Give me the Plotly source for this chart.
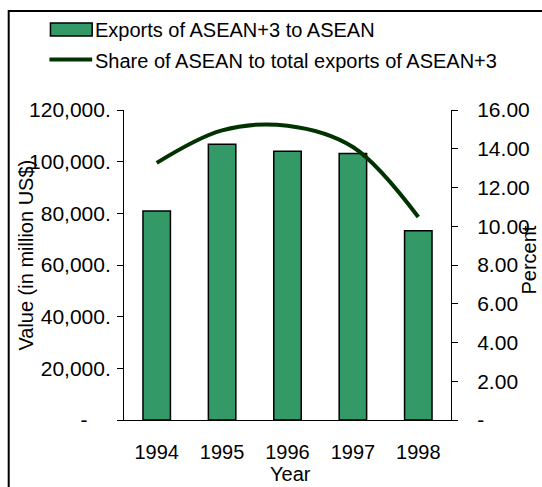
import plotly.graph_objects as go

years = ["1994", "1995", "1996", "1997", "1998"]
exports = [80900, 106700, 104000, 103200, 73300]
share = [13.27, 14.95, 15.19, 14.09, 10.48]

left_tickvals = [0, 20000, 40000, 60000, 80000, 100000, 120000]
left_ticktext = ["-\u00a0\u00a0\u00a0\u00a0", "20,000.", "40,000.", "60,000.", "80,000.", "100,000.", "120,000."]
right_tickvals = [0, 2, 4, 6, 8, 10, 12, 14, 16]
right_ticktext = ["-", "2.00", "4.00", "6.00", "8.00", "10.00", "12.00", "14.00", "16.00"]

bar_name = "Exports of ASEAN+3 to ASEAN"
line_name = "Share of ASEAN to total exports of ASEAN+3"

W, H = 542, 487
L, R, T, B = 124, 453, 110, 420


def px(x):
    return (x - L) / (R - L)


def py(y):
    return (B - y) / (B - T)


BAR = "#339966"
LINE = "#003300"
FONT = "Arial, Liberation Sans, sans-serif"

fig = go.Figure()
fig.add_trace(go.Bar(x=list(range(len(years))), y=exports, name=bar_name,
                     marker=dict(color=BAR, line=dict(color="black", width=1.5)),
                     width=0.42, xaxis="x", yaxis="y", showlegend=False))
fig.add_trace(go.Scatter(x=list(range(len(years))), y=share, name=line_name, mode="lines",
                         line=dict(color=LINE, width=4, shape="spline", smoothing=1),
                         xaxis="x", yaxis="y2", showlegend=False))

tickfont = dict(family=FONT, size=20, color="black")
ytickfont = dict(family=FONT, size=21, color="black")
xr = [-0.5, len(years) - 0.5]
fig.update_layout(
    width=W, height=H,
    margin=dict(l=L, r=W - R, t=T, b=H - B, pad=0),
    paper_bgcolor="white", plot_bgcolor="white",
    font=dict(family=FONT, size=20, color="black"),
    showlegend=False,
    xaxis=dict(range=xr, tickmode="array", tickvals=list(range(len(years))), ticktext=years,
               ticks="", showgrid=False, zeroline=False, showline=True, linecolor="black",
               linewidth=1, tickfont=tickfont, ticklabelstandoff=14),
    xaxis2=dict(range=xr, overlaying="x", tickmode="array",
                tickvals=[i - 0.5 for i in range(len(years) + 1)], showticklabels=False,
                ticks="outside", ticklen=7, tickcolor="black", showgrid=False, zeroline=False,
                side="bottom", anchor="y"),
    xaxis3=dict(range=xr, overlaying="x", tickmode="array",
                tickvals=[i - 0.5 for i in range(len(years) + 1)], showticklabels=False,
                ticks="inside", ticklen=7, tickcolor="black", showgrid=False, zeroline=False,
                side="bottom", anchor="y"),
    yaxis=dict(range=[0, 120000], tickmode="array", tickvals=left_tickvals, ticktext=left_ticktext,
               ticks="outside", ticklen=6, tickcolor="black", showgrid=False, zeroline=False,
               showline=True, linecolor="black", linewidth=1, tickfont=ytickfont,
               ticklabelstandoff=2),
    yaxis3=dict(range=[0, 120000], overlaying="y", tickmode="array", tickvals=left_tickvals,
                showticklabels=False, ticks="inside", ticklen=6, tickcolor="black",
                showgrid=False, zeroline=False, side="left", anchor="x"),
    yaxis2=dict(range=[0, 16], overlaying="y", side="right", anchor="x", tickmode="array",
                tickvals=right_tickvals, ticktext=right_ticktext, ticks="outside", ticklen=6,
                tickcolor="black", showgrid=False, zeroline=False, showline=True,
                linecolor="black", linewidth=1, tickfont=ytickfont, ticklabelstandoff=15),
    yaxis4=dict(range=[0, 16], overlaying="y", side="right", anchor="x", tickmode="array",
                tickvals=right_tickvals, showticklabels=False, ticks="inside", ticklen=6,
                tickcolor="black", showgrid=False, zeroline=False),
)

# outer chart border
fig.add_shape(type="rect", xref="paper", yref="paper",
              x0=px(8), x1=px(560), y0=py(505), y1=py(11),
              line=dict(color="black", width=2), fillcolor="rgba(0,0,0,0)", layer="below")

# manual legend
fig.add_shape(type="rect", xref="paper", yref="paper",
              x0=px(50), x1=px(92), y0=py(36), y1=py(23),
              line=dict(color="black", width=1.5), fillcolor=BAR)
fig.add_shape(type="line", xref="paper", yref="paper",
              x0=px(49), x1=px(92), y0=py(59.5), y1=py(59.5),
              line=dict(color=LINE, width=4))
fig.add_annotation(text=bar_name, xref="paper", yref="paper", x=px(93), y=py(30),
                   xanchor="left", yanchor="middle", showarrow=False,
                   font=dict(family=FONT, size=20, color="black"))
fig.add_annotation(text=line_name, xref="paper", yref="paper", x=px(93), y=py(61),
                   xanchor="left", yanchor="middle", showarrow=False,
                   font=dict(family=FONT, size=20, color="black"))

# axis titles
fig.add_annotation(text="Value (in million US$)", xref="paper", yref="paper",
                   x=px(25), y=py(255), xanchor="center", yanchor="middle", textangle=-90,
                   showarrow=False, font=dict(family=FONT, size=20, color="black"))
fig.add_annotation(text="Percent", xref="paper", yref="paper",
                   x=px(531), y=py(260), xanchor="center", yanchor="middle", textangle=-90,
                   showarrow=False, font=dict(family=FONT, size=20, color="black"))
fig.add_annotation(text="Year", xref="paper", yref="paper",
                   x=px(292), y=py(474), xanchor="center", yanchor="middle",
                   showarrow=False, font=dict(family=FONT, size=20, color="black"))

fig.write_html("out.html", config={"displayModeBar": False},
               post_script="document.body.style.margin='0';document.body.style.padding='0';")
